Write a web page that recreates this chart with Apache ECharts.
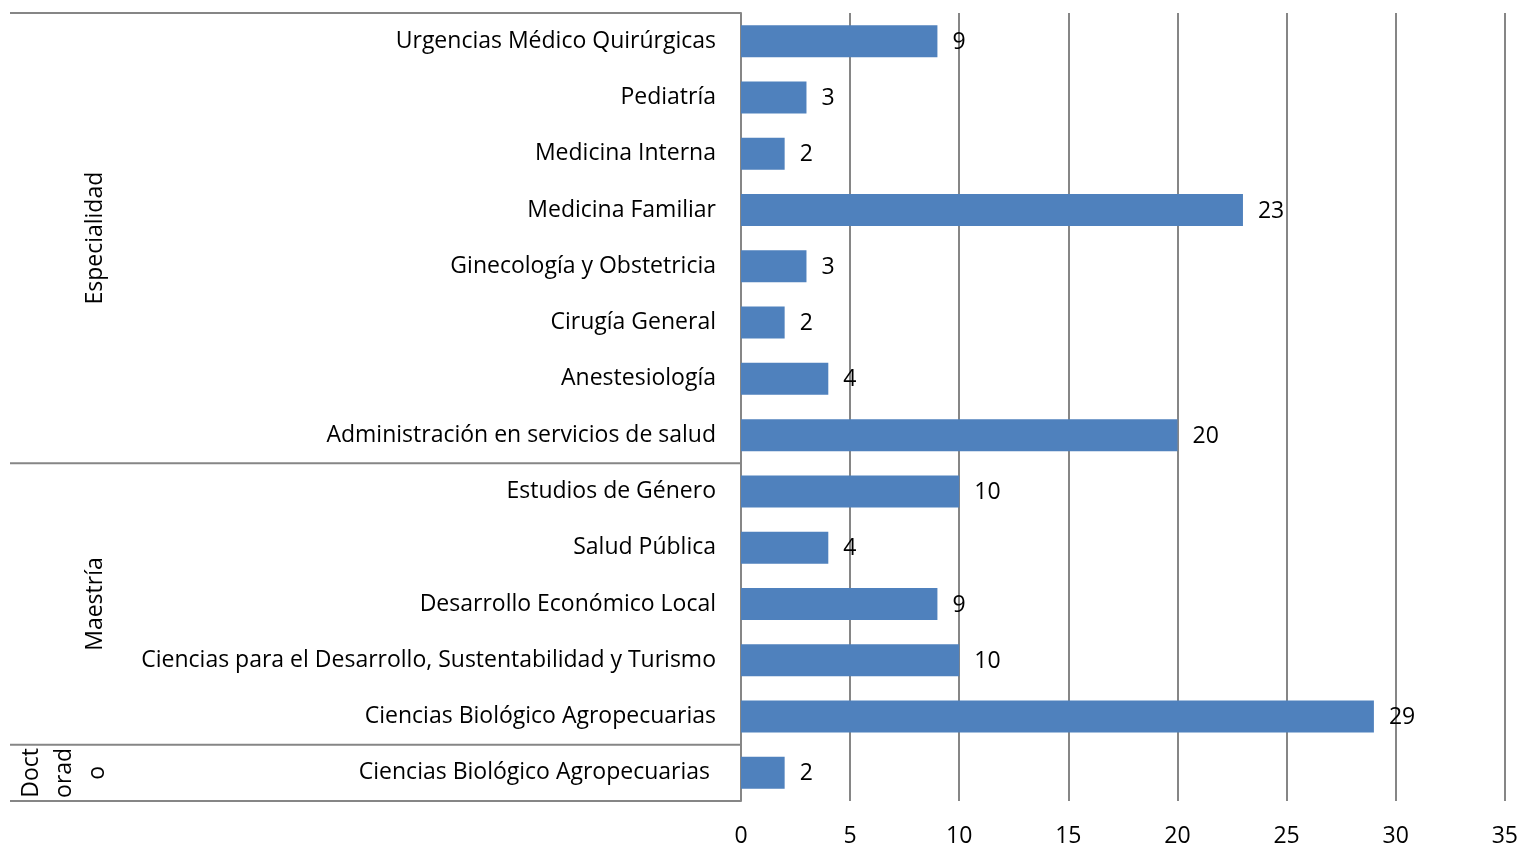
<!DOCTYPE html>
<html>
<head>
<meta charset="utf-8">
<script src="https://cdn.jsdelivr.net/npm/echarts@6/dist/echarts.min.js"></script>
<style>
  html, body { margin: 0; padding: 0; background: #fff; }
  #chart { width: 1521px; height: 848px; }
</style>
</head>
<body>
<div id="chart"></div>
<script>
const categories = [
  'Urgencias Médico Quirúrgicas',
  'Pediatría',
  'Medicina Interna',
  'Medicina Familiar',
  'Ginecología y Obstetricia',
  'Cirugía General',
  'Anestesiología',
  'Administración en servicios de salud',
  'Estudios de Género',
  'Salud Pública',
  'Desarrollo Económico Local',
  'Ciencias para el Desarrollo, Sustentabilidad y Turismo',
  'Ciencias Biológico Agropecuarias',
  'Ciencias Biológico Agropecuarias '
]
const values = [9, 3, 2, 23, 3, 2, 4, 20, 10, 4, 9, 10, 29, 2]
// group name and number of categories in it, top to bottom
const groups = ['Especialidad', 'Maestría', 'Doct\norad\no']
const groupSizes = [8, 5, 1]

const font = 'Open Sans'
const fs = 23
const chart = echarts.init(document.getElementById('chart'))

chart.setOption({
  animation: false,
  textStyle: { fontFamily: font },
  grid: { left: 741, right: 14, top: 13, bottom: 46 },
  xAxis: {
    type: 'value',
    min: 0,
    max: 35,
    interval: 5,
    axisLine: { show: false },
    axisTick: { show: false },
    axisLabel: { color: '#000', fontSize: fs, margin: 24, fontFamily: font },
    splitLine: { lineStyle: { color: '#868686', width: 2 } },
  },
  yAxis: {
    type: 'category',
    inverse: true,
    data: categories,
    axisLine: { show: true, lineStyle: { color: '#868686', width: 2 } },
    axisTick: { show: false },
    axisLabel: { color: '#000', fontSize: fs, margin: 25, fontFamily: font, padding: [2, 0, 0, 0] },
  },
  series: [
    {
      type: 'bar',
      data: values,
      barWidth: 32,
      itemStyle: { color: '#4F81BD' },
      label: {
        show: true,
        position: 'right',
        distance: 15,
        offset: [0, 1],
        color: '#000',
        fontSize: fs,
        fontFamily: font,
      },
    },
  ],
})

// table lines and group labels left of the axis, placed from the category scale
const edge = i => {
  const a = chart.convertToPixel({ yAxisIndex: 0 }, i)
  const step = chart.convertToPixel({ yAxisIndex: 0 }, 1) - chart.convertToPixel({ yAxisIndex: 0 }, 0)
  return a - step / 2
}
const axisX = chart.convertToPixel({ xAxisIndex: 0 }, 0)
const elements = []
let start = 0
elements.push({
  type: 'line',
  shape: { x1: 10, y1: edge(0), x2: axisX, y2: edge(0) },
  style: { stroke: '#868686', lineWidth: 2 },
})
groups.forEach((g, k) => {
  const end = start + groupSizes[k]
  const y0 = edge(start)
  const y1 = edge(end)
  elements.push({
    type: 'line',
    shape: { x1: 10, y1: y1, x2: axisX, y2: y1 },
    style: { stroke: '#868686', lineWidth: 2 },
  })
  const multi = g.indexOf('\n') >= 0
  elements.push({
    type: 'text',
    x: multi ? 64 : 95,
    y: (y0 + y1) / 2,
    rotation: Math.PI / 2,
    style: {
      text: g,
      fill: '#000',
      font: fs + 'px "' + font + '"',
      align: 'center',
      verticalAlign: 'middle',
      lineHeight: 33,
    },
  })
  start = end
})
chart.setOption({ graphic: { elements: elements } })
</script>
</body>
</html>
